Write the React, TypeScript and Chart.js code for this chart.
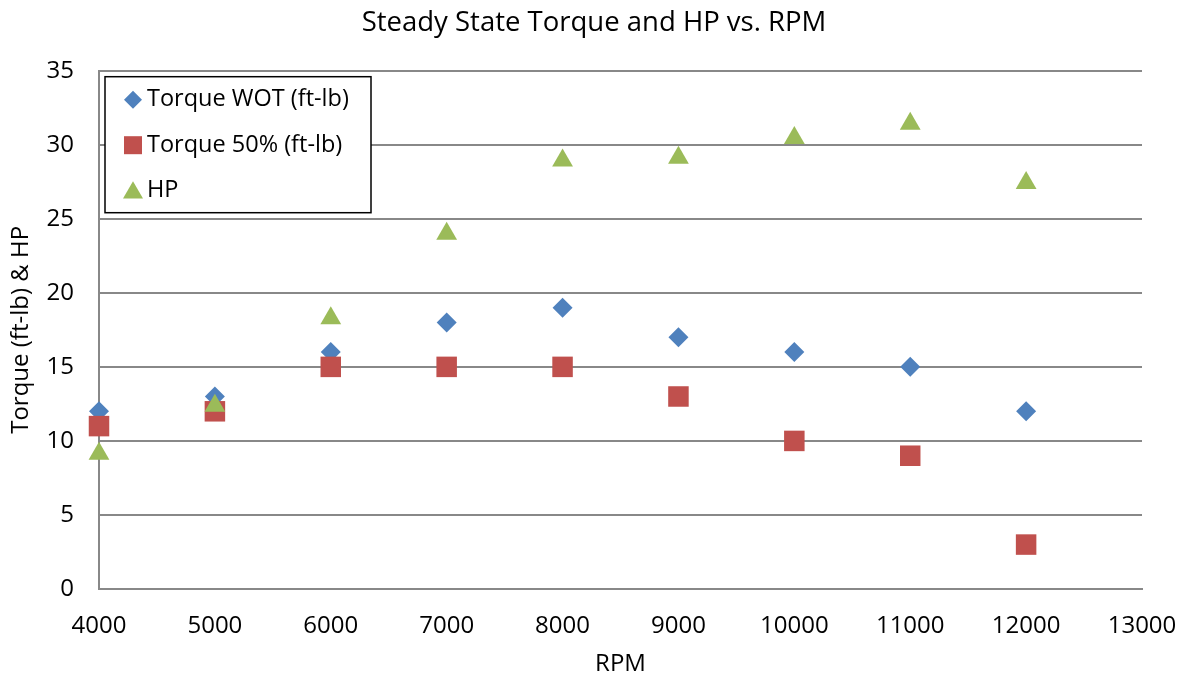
import React, { useEffect, useRef } from 'react';
import { Chart, registerables } from 'chart.js';

Chart.register(...registerables);

const rpm = [4000, 5000, 6000, 7000, 8000, 9000, 10000, 11000, 12000];
const torqueWOT = [12, 13, 16, 18, 19, 17, 16, 15, 12];
const torque50 = [11, 12, 15, 15, 15, 13, 10, 9, 3];
const hp = [9.14, 12.38, 18.28, 23.99, 28.94, 29.13, 30.46, 31.42, 27.42];
const seriesNames = ['Torque WOT (ft-lb)', 'Torque 50% (ft-lb)', 'HP'];
const seriesColors = ['#4F81BD', '#C0504D', '#9BBB59'];
const seriesStyles = ['rectRot', 'rect', 'triangle'];
const chartTitle = 'Steady State Torque and HP vs. RPM';
const xTitle = 'RPM';
const yTitle = 'Torque (ft-lb) & HP';

const FONT = '"Open Sans", "Noto Sans", sans-serif';
const GRID = '#888888';

function drawMarker(ctx: CanvasRenderingContext2D, style: string, x: number, y: number, s: number) {
  ctx.beginPath();
  if (style === 'rectRot') {
    ctx.moveTo(x, y - s);
    ctx.lineTo(x + s, y);
    ctx.lineTo(x, y + s);
    ctx.lineTo(x - s, y);
  } else if (style === 'rect') {
    ctx.rect(x - s, y - s, 2 * s, 2 * s);
  } else {
    const h = s * 1.732;
    ctx.moveTo(x, y - h * 0.55);
    ctx.lineTo(x + s, y + h * 0.45);
    ctx.lineTo(x - s, y + h * 0.45);
  }
  ctx.closePath();
  ctx.fill();
}

const insideLegend = {
  id: 'insideLegend',
  afterDraw(chart: any) {
    const { ctx, chartArea } = chart;
    const x0 = chartArea.left + 6;
    const y0 = chartArea.top + 6;
    const w = 266;
    const h = 136;
    ctx.save();
    ctx.fillStyle = '#ffffff';
    ctx.fillRect(x0, y0, w, h);
    ctx.strokeStyle = '#000000';
    ctx.lineWidth = 1.5;
    ctx.strokeRect(x0, y0, w, h);
    const sizes = [9, 9, 10];
    seriesNames.forEach((name, i) => {
      const cy = y0 + 23 + i * 45.5;
      ctx.fillStyle = seriesColors[i];
      drawMarker(ctx, seriesStyles[i], x0 + 28, cy, sizes[i]);
      ctx.fillStyle = '#000000';
      ctx.font = `23.5px ${FONT}`;
      ctx.textBaseline = 'middle';
      ctx.textAlign = 'left';
      ctx.fillText(name, x0 + 42, cy);
    });
    ctx.restore();
  },
};

export default function App() {
  const ref = useRef<HTMLCanvasElement>(null);
  useEffect(() => {
    document.body.style.margin = '0';
    const seriesData = [torqueWOT, torque50, hp];
    const radii = [10, 14.5, 12];
    const chart = new Chart(ref.current as HTMLCanvasElement, {
      type: 'scatter',
      data: {
        datasets: seriesNames.map((name, i) => ({
          label: name,
          data: rpm.map((x, j) => ({ x, y: seriesData[i][j] })),
          backgroundColor: seriesColors[i],
          borderColor: seriesColors[i],
          borderWidth: 0,
          pointStyle: seriesStyles[i] as any,
          pointRadius: radii[i],
          pointHoverRadius: radii[i],
          order: 3 - i,
          clip: false as any,
          xAxisID: 'x',
          yAxisID: 'y',
        })),
      },
      options: {
        responsive: false,
        animation: false,
        layout: { padding: { left: 0, right: 0, top: 0, bottom: 0 } },
        plugins: {
          legend: { display: false },
          tooltip: { enabled: false },
          title: {
            display: true,
            text: chartTitle,
            color: '#000000',
            font: { family: FONT, size: 27.5, weight: 'normal' },
            padding: { top: 6.5, bottom: 31.2 },
          },
        },
        scales: {
          x: {
            type: 'linear',
            position: 'bottom',
            min: 4000,
            max: 13000,
            afterFit: (s: any) => { s.height = 90; s.paddingLeft = 0; s.paddingRight = 0; },
            ticks: {
              stepSize: 1000,
              callback: (v: any) => String(v),
              color: '#000000',
              font: { family: FONT, size: 24 },
              padding: 23,
              maxRotation: 0,
            },
            grid: { display: false, drawTicks: false },
            border: { display: true, color: GRID, width: 2 },
            title: {
              display: true,
              text: xTitle,
              color: '#000000',
              font: { family: FONT, size: 24 },
              padding: { top: 0, bottom: 0 },
            },
          },
          y: {
            type: 'linear',
            position: 'left',
            min: 0,
            max: 35,
            afterFit: (s: any) => { s.width = 99; },
            ticks: {
              stepSize: 5,
              color: '#000000',
              font: { family: FONT, size: 24 },
              padding: 25,
            },
            grid: { color: GRID, lineWidth: 2, drawTicks: false },
            border: { display: true, color: GRID, width: 2 },
            title: {
              display: true,
              text: yTitle,
              color: '#000000',
              font: { family: FONT, size: 24 },
              padding: { top: 7, bottom: 0 },
            },
          },
          rightSpace: {
            type: 'linear',
            position: 'right',
            min: 0,
            max: 35,
            afterFit: (s: any) => { s.width = 46; s.paddingTop = 0; s.paddingBottom = 0; },
            ticks: { display: false },
            grid: { display: false, drawTicks: false },
            border: { display: false },
          },
        },
      },
      plugins: [insideLegend],
    });
    return () => chart.destroy();
  }, []);
  return (
    <div style={{ width: 1188, height: 679 }}>
      <canvas ref={ref} width={1188} height={679} />
    </div>
  );
}
